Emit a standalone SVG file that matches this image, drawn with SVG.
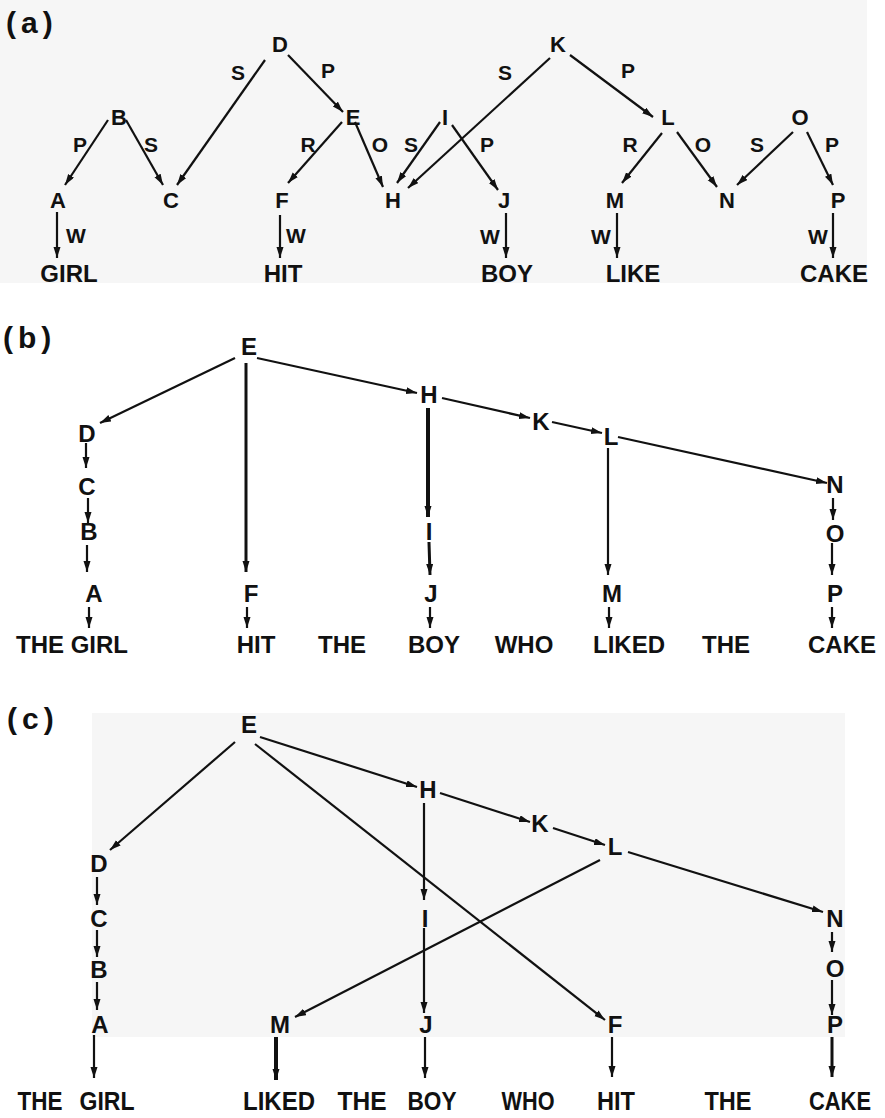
<svg xmlns="http://www.w3.org/2000/svg" width="885" height="1118" viewBox="0 0 885 1118">
<style>
text{font-family:"Liberation Sans",Arial,sans-serif;font-weight:bold;fill:#111;text-anchor:middle}
.n{font-size:22px}
.nb{font-size:24px}
.w{font-size:24px}
.wc{font-size:26px}
.lab{font-size:21px}
.pl{font-size:30px;text-anchor:start;letter-spacing:5px}
.e{stroke:#111;stroke-width:2.2;fill:none;marker-end:url(#ah)}
.t3{stroke-width:3}
.t4{stroke-width:4}
</style>
<defs>
<marker id="ah" markerUnits="userSpaceOnUse" markerWidth="12" markerHeight="8" refX="11" refY="3.5" orient="auto">
<path d="M0,0 L11,3.5 L0,7 z" fill="#111"/>
</marker>
</defs>
<rect x="0" y="0" width="885" height="1118" fill="#ffffff"/>
<rect x="0" y="0" width="867" height="283" fill="#f6f6f6"/>
<rect x="92" y="713" width="753" height="324" fill="#f6f6f6"/>

<g id="panel-labels">
<text class="pl" x="6" y="33">(a)</text>
<text class="pl" x="3" y="348">(b)</text>
<text class="pl" x="7" y="729">(c)</text>
</g>

<g id="connectors">
<!-- panel a -->
<line class="e" x1="265" y1="60" x2="177" y2="185"/>
<line class="e" x1="288" y1="55" x2="343" y2="112"/>
<line class="e" x1="108" y1="120" x2="65" y2="185"/>
<line class="e" x1="126" y1="120" x2="163" y2="185"/>
<line class="e" x1="342" y1="122" x2="288" y2="183"/>
<line class="e" x1="355" y1="122" x2="383" y2="187"/>
<line class="e" x1="440" y1="122" x2="397" y2="183"/>
<line class="e" x1="550" y1="58" x2="408" y2="188"/>
<line class="e" x1="570" y1="55" x2="653" y2="117"/>
<line class="e" x1="452" y1="125" x2="498" y2="190"/>
<line class="e" x1="662" y1="133" x2="622" y2="183"/>
<line class="e" x1="677" y1="132" x2="717" y2="187"/>
<line class="e" x1="793" y1="132" x2="737" y2="185"/>
<line class="e" x1="807" y1="132" x2="833" y2="185"/>
<line class="e" x1="57" y1="212" x2="57" y2="258"/>
<line class="e" x1="280" y1="215" x2="280" y2="258"/>
<line class="e" x1="506" y1="213" x2="506" y2="258"/>
<line class="e" x1="617" y1="213" x2="617" y2="258"/>
<line class="e" x1="833" y1="213" x2="833" y2="258"/>
<g id="edge-labels">
<text class="lab" x="238" y="80">S</text>
<text class="lab" x="328" y="78">P</text>
<text class="lab" x="505" y="80">S</text>
<text class="lab" x="628" y="78">P</text>
<text class="lab" x="80" y="152">P</text>
<text class="lab" x="151" y="152">S</text>
<text class="lab" x="308" y="152">R</text>
<text class="lab" x="380" y="152">O</text>
<text class="lab" x="411" y="152">S</text>
<text class="lab" x="487" y="152">P</text>
<text class="lab" x="630" y="152">R</text>
<text class="lab" x="703" y="152">O</text>
<text class="lab" x="757" y="152">S</text>
<text class="lab" x="832" y="152">P</text>
<text class="lab" x="76" y="243">W</text>
<text class="lab" x="296" y="243">W</text>
<text class="lab" x="490" y="244">W</text>
<text class="lab" x="601" y="244">W</text>
<text class="lab" x="818" y="244">W</text>
</g>
<!-- panel b -->
<line class="e" x1="235" y1="358" x2="100" y2="423"/>
<line class="e t3" x1="246" y1="363" x2="246" y2="572"/>
<line class="e" x1="257" y1="358" x2="417" y2="393"/>
<line class="e t4" x1="428" y1="408" x2="428" y2="517"/>
<line class="e t3" x1="429" y1="542" x2="430" y2="575"/>
<line class="e" x1="86" y1="443" x2="86" y2="468"/>
<line class="e" x1="88" y1="498" x2="88" y2="523"/>
<line class="e" x1="87" y1="545" x2="87" y2="572"/>
<line class="e" x1="89" y1="607" x2="89" y2="628"/>
<line class="e" x1="247" y1="607" x2="247" y2="628"/>
<line class="e" x1="430" y1="607" x2="430" y2="628"/>
<line class="e" x1="442" y1="398" x2="530" y2="418"/>
<line class="e" x1="552" y1="422" x2="602" y2="433"/>
<line class="e" x1="618" y1="437" x2="827" y2="483"/>
<line class="e" x1="608" y1="448" x2="608" y2="575"/>
<line class="e" x1="609" y1="607" x2="609" y2="628"/>
<line class="e" x1="833" y1="498" x2="833" y2="520"/>
<line class="e" x1="832" y1="543" x2="832" y2="575"/>
<line class="e" x1="832" y1="607" x2="832" y2="628"/>
<!-- panel c -->
<line class="e" x1="235" y1="742" x2="110" y2="850"/>
<line class="e" x1="260" y1="737" x2="417" y2="787"/>
<line class="e" x1="255" y1="744" x2="605" y2="1020"/>
<line class="e" x1="424" y1="803" x2="424" y2="900"/>
<line class="e" x1="424" y1="928" x2="424" y2="1013"/>
<line class="e" x1="440" y1="793" x2="530" y2="822"/>
<line class="e" x1="553" y1="828" x2="605" y2="845"/>
<line class="e" x1="628" y1="852" x2="823" y2="912"/>
<line class="e" x1="600" y1="860" x2="295" y2="1017"/>
<line class="e" x1="97" y1="877" x2="97" y2="905"/>
<line class="e" x1="97" y1="930" x2="97" y2="957"/>
<line class="e" x1="97" y1="982" x2="97" y2="1010"/>
<line class="e" x1="832" y1="932" x2="832" y2="952"/>
<line class="e" x1="832" y1="980" x2="832" y2="1015"/>
<line class="e" x1="94" y1="1035" x2="94" y2="1078"/>
<line class="e t4" x1="276" y1="1037" x2="276" y2="1080"/>
<line class="e" x1="425" y1="1037" x2="425" y2="1078"/>
<line class="e" x1="612" y1="1037" x2="612" y2="1077"/>
<line class="e t3" x1="832" y1="1037" x2="832" y2="1077"/>
</g>

<!-- panel a nodes -->
<g id="a-D"><text class="n" x="280" y="52">D</text></g>
<g id="a-K"><text class="n" x="558" y="52">K</text></g>
<g id="a-B"><text class="n" x="119" y="125">B</text></g>
<g id="a-E"><text class="n" x="353" y="125">E</text></g>
<g id="a-I"><text class="n" x="445" y="125">I</text></g>
<g id="a-L"><text class="n" x="668" y="125">L</text></g>
<g id="a-O"><text class="n" x="800" y="125">O</text></g>
<g id="a-A"><text class="n" x="58" y="208">A</text></g>
<g id="a-C"><text class="n" x="171" y="208">C</text></g>
<g id="a-F"><text class="n" x="282" y="208">F</text></g>
<g id="a-H"><text class="n" x="393" y="208">H</text></g>
<g id="a-J"><text class="n" x="504" y="208">J</text></g>
<g id="a-M"><text class="n" x="615" y="208">M</text></g>
<g id="a-N"><text class="n" x="727" y="208">N</text></g>
<g id="a-P"><text class="n" x="838" y="208">P</text></g>
<g id="a-GIRL"><text class="w" x="69" y="282">GIRL</text></g>
<g id="a-HIT"><text class="w" x="283" y="282">HIT</text></g>
<g id="a-BOY"><text class="w" x="507" y="282">BOY</text></g>
<g id="a-LIKE"><text class="w" x="633" y="282">LIKE</text></g>
<g id="a-CAKE"><text class="w" x="834" y="282">CAKE</text></g>

<!-- panel b nodes -->
<g id="b-E"><text class="nb" x="249" y="355">E</text></g>
<g id="b-D"><text class="nb" x="87" y="442">D</text></g>
<g id="b-C"><text class="nb" x="87" y="495">C</text></g>
<g id="b-B"><text class="nb" x="89" y="540">B</text></g>
<g id="b-A"><text class="nb" x="94" y="602">A</text></g>
<g id="b-F"><text class="nb" x="251" y="602">F</text></g>
<g id="b-H"><text class="nb" x="429" y="403">H</text></g>
<g id="b-I"><text class="nb" x="429" y="540">I</text></g>
<g id="b-J"><text class="nb" x="431" y="602">J</text></g>
<g id="b-K"><text class="nb" x="541" y="430">K</text></g>
<g id="b-L"><text class="nb" x="611" y="445">L</text></g>
<g id="b-N"><text class="nb" x="835" y="493">N</text></g>
<g id="b-O"><text class="nb" x="835" y="542">O</text></g>
<g id="b-M"><text class="nb" x="612" y="602">M</text></g>
<g id="b-P"><text class="nb" x="835" y="602">P</text></g>
<g id="b-THEGIRL"><text class="w" x="72" y="653">THE GIRL</text></g>
<g id="b-HIT"><text class="w" x="256" y="653">HIT</text></g>
<g id="b-THE1"><text class="w" x="342" y="653">THE</text></g>
<g id="b-BOY"><text class="w" x="434" y="653">BOY</text></g>
<g id="b-WHO"><text class="w" x="524" y="653">WHO</text></g>
<g id="b-LIKED"><text class="w" x="629" y="653">LIKED</text></g>
<g id="b-THE2"><text class="w" x="726" y="653">THE</text></g>
<g id="b-CAKE"><text class="w" x="842" y="653">CAKE</text></g>

<!-- panel c nodes -->
<g id="c-E"><text class="nb" x="249" y="733">E</text></g>
<g id="c-H"><text class="nb" x="428" y="798">H</text></g>
<g id="c-K"><text class="nb" x="540" y="832">K</text></g>
<g id="c-L"><text class="nb" x="615" y="855">L</text></g>
<g id="c-N"><text class="nb" x="835" y="927">N</text></g>
<g id="c-O"><text class="nb" x="835" y="977">O</text></g>
<g id="c-P"><text class="nb" x="835" y="1033">P</text></g>
<g id="c-D"><text class="nb" x="99" y="872">D</text></g>
<g id="c-C"><text class="nb" x="99" y="927">C</text></g>
<g id="c-B"><text class="nb" x="99" y="978">B</text></g>
<g id="c-A"><text class="nb" x="100" y="1033">A</text></g>
<g id="c-M"><text class="nb" x="280" y="1033">M</text></g>
<g id="c-I"><text class="nb" x="425" y="927">I</text></g>
<g id="c-J"><text class="nb" x="426" y="1033">J</text></g>
<g id="c-F"><text class="nb" x="615" y="1033">F</text></g>
<g id="c-THE1"><text class="wc" x="40" y="1110" textLength="45" lengthAdjust="spacingAndGlyphs">THE</text></g>
<g id="c-GIRL"><text class="wc" x="107" y="1110" textLength="55" lengthAdjust="spacingAndGlyphs">GIRL</text></g>
<g id="c-LIKED"><text class="wc" x="279" y="1110" textLength="72" lengthAdjust="spacingAndGlyphs">LIKED</text></g>
<g id="c-THE2"><text class="wc" x="362" y="1110" textLength="49" lengthAdjust="spacingAndGlyphs">THE</text></g>
<g id="c-BOY"><text class="wc" x="432" y="1110" textLength="49" lengthAdjust="spacingAndGlyphs">BOY</text></g>
<g id="c-WHO"><text class="wc" x="528" y="1110" textLength="53" lengthAdjust="spacingAndGlyphs">WHO</text></g>
<g id="c-HIT"><text class="wc" x="616" y="1110" textLength="38" lengthAdjust="spacingAndGlyphs">HIT</text></g>
<g id="c-THE3"><text class="wc" x="728" y="1110" textLength="47" lengthAdjust="spacingAndGlyphs">THE</text></g>
<g id="c-CAKE"><text class="wc" x="840" y="1110" textLength="62" lengthAdjust="spacingAndGlyphs">CAKE</text></g>
</svg>
